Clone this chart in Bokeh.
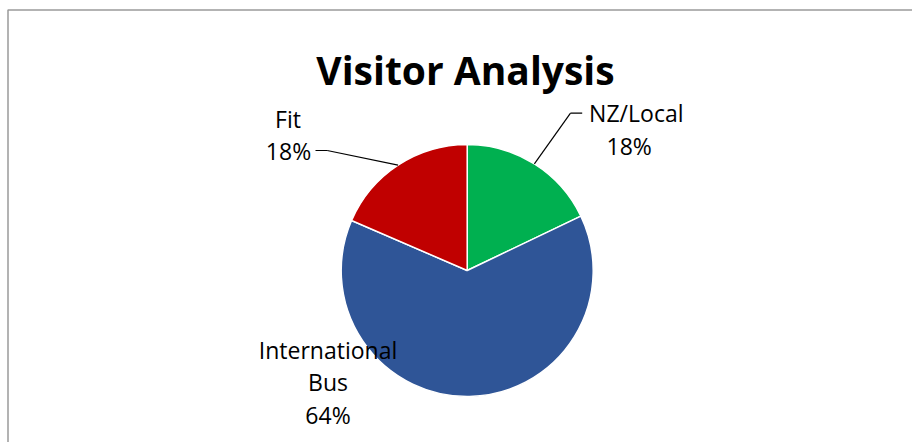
import numpy as np
from bokeh.plotting import figure
from bokeh.models import Range1d, ColumnDataSource
from bokeh.core.properties import value
from bokeh.embed import file_html
from bokeh.resources import INLINE

# ---- data ----
categories = ["NZ/Local", "International Bus", "Fit"]
shares = [17.9, 63.6, 18.5]
colors = ["#00B050", "#2F5597", "#C00000"]
title_text = "Visitor Analysis"

# ---- layout (pixel coordinates, y measured from top of figure) ----
W, H = 912, 442
def Y(sy):
    return H - sy

cx, cy, R = 466.7, Y(270.0), 126.0

p = figure(width=W, height=H, output_backend="svg", toolbar_location=None,
           x_range=Range1d(0, W), y_range=Range1d(0, H),
           x_axis_location=None, y_axis_location=None, min_border=0,
           outline_line_color=None, background_fill_color="white",
           border_fill_color="white")
p.grid.visible = False

vals = np.array(shares, dtype=float)
frac = vals / vals.sum()
cum = np.concatenate([[0.0], np.cumsum(frac)])
start = np.pi / 2 - 2 * np.pi * cum[:-1]
end = np.pi / 2 - 2 * np.pi * cum[1:]
mid = (start + end) / 2

src = ColumnDataSource(dict(start=start, end=end, color=colors, cat=categories))
p.wedge(x=cx, y=cy, radius=R, start_angle="start", end_angle="end",
        direction="clock", fill_color="color", line_color="white",
        line_width=1.5, source=src)

pct = [f"{round(f * 100):.0f}%" for f in frac]

label_font = value("Open Sans")
lab_x, lab_y, lab_t = [], [], []
# NZ/Local
lab_t += ["NZ/Local", pct[0]]
lab_x += [635.8, 628.7]
lab_y += [Y(112.7), Y(145.0)]
# International Bus
lab_t += ["International", "Bus", pct[1]]
lab_x += [327.5, 327.5, 327.5]
lab_y += [Y(349.3), Y(381.7), Y(414.0)]
# Fit
lab_t += ["Fit", pct[2]]
lab_x += [287.5, 288.0]
lab_y += [Y(118.3), Y(150.0)]

p.text(x=lab_x, y=lab_y, text=lab_t, text_font=label_font,
       text_font_size="23px", text_align="center",
       text_baseline="alphabetic", text_color="black")

# leader lines (end on the middle of each slice's arc)
ex = cx + R * np.cos(mid)
ey = cy + R * np.sin(mid)
p.line(x=[570.0, 581.7], y=[Y(112.7), Y(112.7)], line_color="black", line_width=1.2)
p.line(x=[570.0, ex[0]], y=[Y(112.7), ey[0]], line_color="black", line_width=1.2)
p.line(x=[315.0, 326.7], y=[Y(150.0), Y(150.0)], line_color="black", line_width=1.2)
p.line(x=[326.7, ex[2]], y=[Y(150.0), ey[2]], line_color="black", line_width=1.2)

# title
p.text(x=[465.0], y=[Y(69.3)], text=[title_text], text_font=value("Open Sans"),
       text_font_style="bold", text_font_size="39px", text_align="center",
       text_baseline="alphabetic", text_color="black")

# chart frame (left and top edges visible in the crop)
p.line(x=[7.5, 7.5, W], y=[0, Y(9.5), Y(9.5)], line_color="#9a9a9a", line_width=1.5)

open("out.html", "w").write(file_html(p, INLINE))
